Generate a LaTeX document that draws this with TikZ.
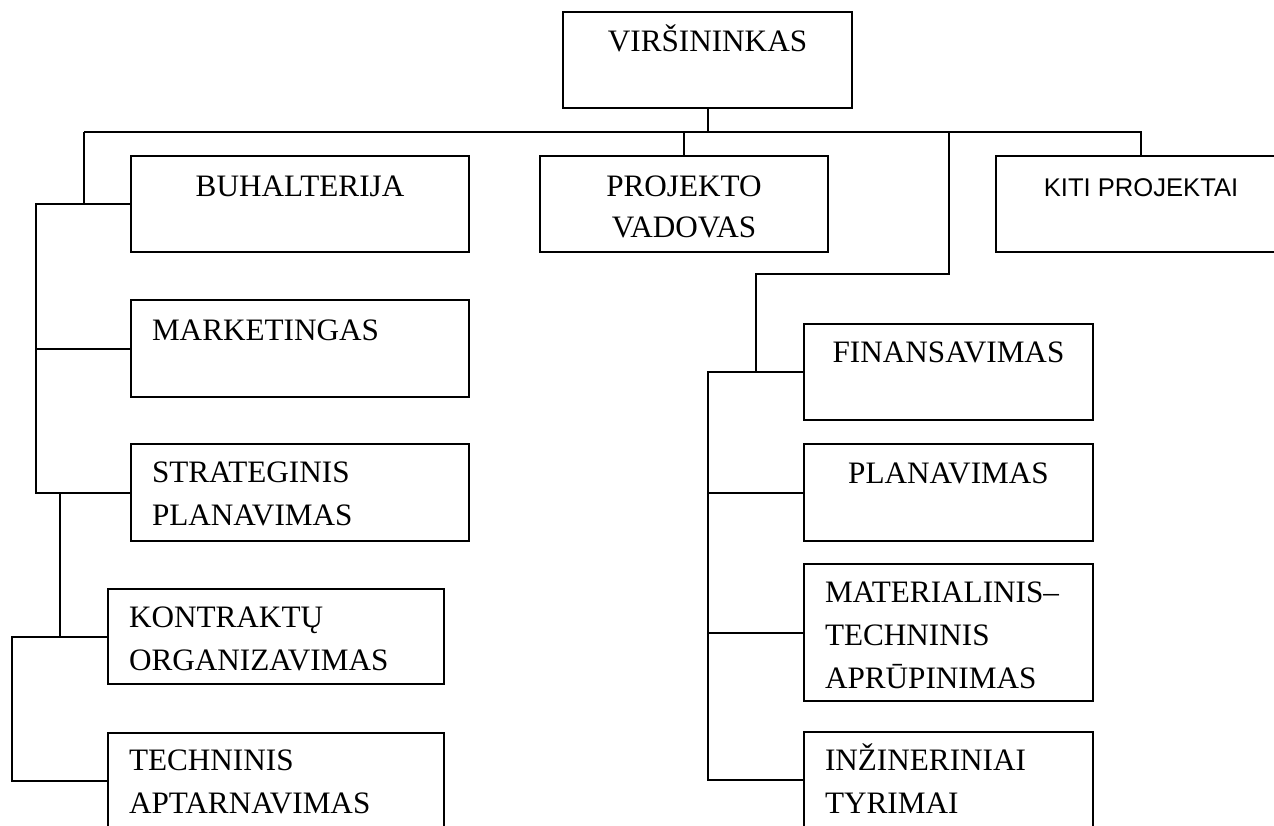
\documentclass[tikz,border=0pt]{standalone}
\usepackage{fontspec}
\setmainfont{Liberation Serif}
\newfontfamily\kitifont{Liberation Sans}

\tikzset{
  box/.style={draw, rectangle, inner sep=0pt, minimum width=#1, minimum height=48pt},
  txt/.style={inner sep=0pt, align=left, font=\fontsize{15.6}{21.5}\selectfont},
}

\begin{document}
\begin{tikzpicture}[x=0.5pt,y=-0.5pt,line width=1pt]
  \useasboundingbox (0,0) rectangle (1274,825);
  \clip (0,0) rectangle (1274,825);
  % top
  \node[box=144.5pt] (vir) at (707.5,60) {};
  \node[box=169pt] (buh) at (300,204) {};
  \node[box=144pt] (proj) at (684,204) {};
  \node[box=145pt] (kiti) at (1141,204) {};
  % left column
  \node[box=169pt, minimum height=48.5pt] (mark) at (300,348.5) {};
  \node[box=169pt, minimum height=48.5pt] (strat) at (300,492.5) {};
  \node[box=168pt, minimum height=47.5pt] (kontr) at (276,636.5) {};
  \node[box=168pt] (tech) at (276,781) {};
  % right column
  \node[box=144.5pt] (fin) at (948.5,372) {};
  \node[box=144.5pt, minimum height=48.5pt] (plan) at (948.5,492.5) {};
  \node[box=144.5pt, minimum height=68.5pt] (mat) at (948.5,632.5) {};
  \node[box=144.5pt] (inz) at (948.5,780) {};

  % texts (base = last line)
  \node[txt, anchor=base] (vir-t) at ([shift={(0,40)}]vir.north) {VIRŠININKAS};
  \node[txt, anchor=base] (buh-t) at ([shift={(0,41)}]buh.north) {BUHALTERIJA};
  \node[txt, anchor=base, align=center, font=\fontsize{15.6}{20.5}\selectfont] (proj-t)
    at ([shift={(0,82)}]proj.north) {PROJEKTO\\VADOVAS};
  \node[txt, anchor=base, font=\kitifont\fontsize{12.8}{15}\selectfont] (kiti-t)
    at ([shift={(0,41)}]kiti.north) {KITI PROJEKTAI};
  \node[txt, anchor=base west] (mark-t) at ([shift={(21,41)}]mark.north west) {MARKETINGAS};
  \node[txt, anchor=base west] (strat-t) at ([shift={(21,82)}]strat.north west) {STRATEGINIS\\PLANAVIMAS};
  \node[txt, anchor=base west] (kontr-t) at ([shift={(21,82)}]kontr.north west) {KONTRAKTŲ\\ORGANIZAVIMAS};
  \node[txt, anchor=base west] (tech-t) at ([shift={(21,81)}]tech.north west) {TECHNINIS\\APTARNAVIMAS};
  \node[txt, anchor=base] (fin-t) at ([shift={(0,39)}]fin.north) {FINANSAVIMAS};
  \node[txt, anchor=base] (plan-t) at ([shift={(0,40)}]plan.north) {PLANAVIMAS};
  \node[txt, anchor=base west] (mat-t) at ([shift={(21,125)}]mat.north west) {MATERIALINIS–\\TECHNINIS\\APRŪPINIMAS};
  \node[txt, anchor=base west] (inz-t) at ([shift={(21,82)}]inz.north west) {INŽINERINIAI\\TYRIMAI};

  % lines
  \coordinate (busL) at (84,132);
  \coordinate (lft1) at (36,204);
  \coordinate (lft2) at (60,492.5);
  \coordinate (lft3) at (12,636.5);
  \coordinate (rgt) at (949,132);
  \coordinate (rgtK) at (756,274);
  \coordinate (rgt1) at (708,372);
  \draw (vir.south) |- (busL);
  \draw (busL) -| (kiti.north);
  \draw (proj.north) -- (proj.north |- busL);
  \draw (busL) -- (busL |- buh.west);
  \draw (buh.west) -- (lft1) |- (strat.west);
  \draw (mark.west) -- (lft1 |- mark.west);
  \draw (lft2) |- (kontr.west);
  \draw (kontr.west) -- (lft3) |- (tech.west);
  \draw (rgt) |- (rgtK) -- (rgtK |- fin.west);
  \draw (fin.west) -- (rgt1) |- (inz.west);
  \draw (plan.west) -- (rgt1 |- plan.west);
  \draw (mat.west) -- (rgt1 |- mat.west);
\end{tikzpicture}
\end{document}
